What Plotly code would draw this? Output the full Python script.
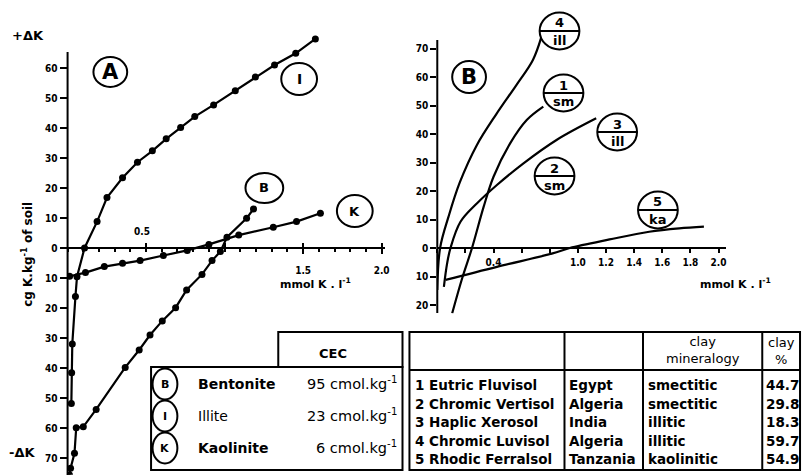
import plotly.graph_objects as go

W, H = 809, 475

# ---------------- data ----------------
# Panel A (clay minerals), x = mmol K/l, y = cg K/kg (negative = -dK)
illite_x = [0.024, 0.026, 0.030, 0.05, 0.06, 0.108, 0.188, 0.251, 0.35, 0.445, 0.54, 0.628, 0.72, 0.81, 0.93, 1.068, 1.196, 1.318, 1.453, 1.578]
illite_y = [-51.8, -41.6, -32, -16.2, -9.6, 0, 8.8, 16.8, 23.4, 28.6, 32.4, 36.4, 40.2, 43.8, 47.7, 52.4, 57, 61, 64.9, 69.7]

kaol_x = [0.013, 0.114, 0.234, 0.35, 0.462, 0.61, 0.762, 0.9, 1.09, 1.31, 1.458, 1.61]
kaol_y = [-9.4, -8.2, -6.2, -5.1, -4.2, -2.5, -0.8, 1.2, 4.3, 6.9, 8.8, 11.6]

bent_x = [0.012, 0.019, 0.044, 0.055, 0.1, 0.182, 0.367, 0.456, 0.525, 0.603, 0.688, 0.758, 0.856, 0.92, 0.973, 1.015, 1.14, 1.184]
bent_y = [-75.7, -73.4, -68.4, -59.9, -59.6, -53.8, -39.8, -34, -29, -24.3, -19.9, -14, -8.8, -4.2, -1.2, 3.6, 9.9, 13.0]

# Panel B (soils)
s4_x = [0.0, 0.02, 0.08, 0.16, 0.28, 0.42, 0.56, 0.68, 0.74]
s4_y = [-14.7, 0, 11, 23, 36, 47, 57, 66, 74]
s1_x = [0.106, 0.177, 0.247, 0.33, 0.4, 0.518, 0.636, 0.754]
s1_y = [-22.9, -10.6, 0, 14.5, 25, 36.7, 44.9, 49.6]
s3_x = [0.047, 0.07, 0.094, 0.165, 0.283, 0.424, 0.613, 0.848, 1.13]
s3_y = [-13.6, -5.4, 0, 9.2, 15.7, 22.1, 29.7, 37.9, 45.5]
s5_x = [0.059, 0.424, 0.82, 0.942, 1.225, 1.507, 1.72, 1.896]
s5_y = [-11.2, -6.6, -1.9, 0, 3.0, 5.7, 6.9, 7.5]

# axis ticks
a_xmajor = [0.5, 1.0, 1.5, 2.0]
a_xticks = [1.5, 2.0]
a_xticktext = ["1.5", "2.0"]
a_yticks = [-70, -60, -50, -40, -30, -20, -10, 0, 10, 20, 30, 40, 50, 60]
b_xticks = [0.4, 1.0, 1.2, 1.4, 1.6, 1.8, 2.0]
b_xticktext = ["0.4", "1.0", "1.2", "1.4", "1.6", "1.8", "2.0"]
b_yticks = [-20, -10, 0, 10, 20, 30, 40, 50, 60, 70]

# tables
mineral_codes = ["B", "I", "K"]
mineral_names = ["Bentonite", "Illite", "Kaolinite"]
mineral_cec = ["95 cmol.kg<sup>-1</sup>", "23 cmol.kg<sup>-1</sup>", "6 cmol.kg<sup>-1</sup>"]

soil_names = ["1 Eutric Fluvisol", "2 Chromic Vertisol", "3 Haplic Xerosol", "4 Chromic Luvisol", "5 Rhodic Ferralsol"]
soil_country = ["Egypt", "Algeria", "India", "Algeria", "Tanzania"]
soil_mineralogy = ["smectitic", "smectitic", "illitic", "illitic", "kaolinitic"]
soil_clay = ["44.7", "29.8", "18.3", "59.7", "54.9"]

soil_labels = [("4", "ill"), ("1", "sm"), ("3", "ill"), ("2", "sm"), ("5", "ka")]

# ---------------- helpers ----------------
def X(px):
    return min(1.0, max(0.0, px / W))

def Y(py):
    return min(1.0, max(0.0, 1 - py / H))

FONT = "DejaVu Sans, Liberation Sans, Arial, sans-serif"
NARROW = "DejaVu Sans Condensed, Liberation Sans Narrow, Arial, sans-serif"

fig = go.Figure()

mk = dict(size=7, color="black")
ln = dict(color="black", width=2.2)
for xs, ys in [(illite_x, illite_y), (kaol_x, kaol_y), (bent_x, bent_y)]:
    fig.add_trace(go.Scatter(x=xs, y=ys, mode="lines+markers", line=ln, marker=mk,
                             xaxis="x", yaxis="y", showlegend=False, hoverinfo="skip"))

for xs, ys in [(s4_x, s4_y), (s1_x, s1_y), (s3_x, s3_y), (s5_x, s5_y)]:
    fig.add_trace(go.Scatter(x=xs, y=ys, mode="lines", line=dict(color="black", width=2.2, shape="spline", smoothing=1.0),
                             xaxis="x2", yaxis="y2", showlegend=False, hoverinfo="skip"))

# axis geometry (pixels)
A_X0, A_PPU_X = 68, 158.0
A_Y0, A_PPU_Y = 248, 3.0
A_XMAX = 2.02
A_YTOP, A_YBOT = 72, -75.6
A_LINE_TOP = 52
B_X0, B_PPU_X = 440, 141.5
B_Y0, B_PPU_Y = 248, 2.85
B_XMAX = 2.05
B_YTOP, B_YBOT = 76, -23
B_LINE_TOP, B_LINE_BOT = 40, 313

tickfont = dict(family=NARROW, size=10, color="black", weight="bold")

common = dict(showgrid=False, zeroline=False, linecolor="black", linewidth=2,
              ticks="outside", tickcolor="black", tickwidth=2, tickfont=tickfont, fixedrange=True)

a_xdom = [X(A_X0), X(A_X0 + A_XMAX * A_PPU_X)]
fig.update_layout(
    width=W, height=H, margin=dict(l=0, r=0, t=0, b=0),
    paper_bgcolor="white", plot_bgcolor="rgba(0,0,0,0)",
    xaxis=dict(domain=a_xdom, range=[0, A_XMAX], showline=True,
               anchor="free", position=Y(A_Y0), tickvals=a_xticks, ticktext=a_xticktext,
               ticklen=5, ticklabelstandoff=8,
               minor=dict(dtick=0.1, ticklen=3, ticks="outside", tickcolor="black", tickwidth=1.5),
               **common),
    xaxis3=dict(domain=a_xdom, range=[0, A_XMAX], overlaying="x", showline=False,
                anchor="free", position=Y(A_Y0), tickvals=a_xmajor, showticklabels=False,
                showgrid=False, zeroline=False, ticks="inside", ticklen=5, tickwidth=2,
                tickcolor="black", fixedrange=True),
    yaxis=dict(domain=[Y(A_Y0 - A_YBOT * A_PPU_Y), Y(A_Y0 - A_YTOP * A_PPU_Y)], range=[A_YBOT, A_YTOP],
               anchor="x", showline=False, tickvals=a_yticks, ticktext=[str(abs(v)) for v in a_yticks],
               ticklen=7, **common),
    xaxis2=dict(domain=[X(B_X0), X(B_X0 + B_XMAX * B_PPU_X)], range=[0, B_XMAX], showline=True,
                anchor="free", position=Y(B_Y0), tickvals=b_xticks, ticktext=b_xticktext,
                ticklen=4, ticklabelstandoff=1,
                minor=dict(dtick=0.2, ticklen=4, ticks="outside", tickcolor="black", tickwidth=2),
                **common),
    yaxis2=dict(domain=[Y(B_Y0 - B_YBOT * B_PPU_Y), Y(B_Y0 - B_YTOP * B_PPU_Y)], range=[B_YBOT, B_YTOP],
                anchor="x2", showline=False, tickvals=b_yticks, ticktext=[str(abs(v)) for v in b_yticks],
                ticklen=6, **common),
)
# invisible trace to activate overlay axis
fig.add_trace(go.Scatter(x=[None], y=[None], xaxis="x3", yaxis="y", showlegend=False, hoverinfo="skip"))

shapes = []
annots = []

def circle(cx, cy, rx, ry, w=2):
    shapes.append(dict(type="circle", xref="paper", yref="paper", x0=X(cx - rx), x1=X(cx + rx),
                       y0=Y(cy + ry), y1=Y(cy - ry), line=dict(color="black", width=w),
                       fillcolor="white", layer="above"))

def text(t, x, y, size=12, xanchor="center", bold=True, angle=0, family=FONT):
    annots.append(dict(text=t, x=X(x), y=Y(y), xref="paper", yref="paper", showarrow=False,
                       xanchor=xanchor, yanchor="middle", textangle=angle,
                       font=dict(family=family, size=size, color="black", weight="bold" if bold else "normal")))

def hline(x0, x1, y, w=2):
    shapes.append(dict(type="line", xref="paper", yref="paper", x0=X(x0), x1=X(x1), y0=Y(y), y1=Y(y),
                       line=dict(color="black", width=w)))

def vline(x, y0, y1, w=2):
    shapes.append(dict(type="line", xref="paper", yref="paper", x0=X(x), x1=X(x), y0=Y(y0), y1=Y(y1),
                       line=dict(color="black", width=w)))

# y-axis lines (drawn as shapes so curves may pass above the axis top)
vline(A_X0, A_LINE_TOP, H)
vline(B_X0, B_LINE_TOP, B_LINE_BOT)

# Panel A labels
text("+ΔK", 28, 35, 13)
text("-ΔK", 22, 452, 13)
text("cg K.kg<sup>-1</sup> of soil", 27, 254, 12, angle=-90)
text("mmol K . l<sup>-1</sup>", 317, 283, 11)
text("0.5", 143, 232, 10, family=NARROW)
circle(111, 72, 17, 15)
text("A", 111, 72, 21)
circle(301, 79, 18, 16)
text("I", 301, 79, 14)
circle(266, 188, 19, 15)
text("B", 266, 188, 13)
circle(357, 211, 18, 16)
text("K", 357, 211, 13)

# Panel B labels
circle(472, 77, 17, 16)
text("B", 472, 77, 21)
text("mmol K . l<sup>-1</sup>", 740, 283, 11)
label_pos = [(563, 31), (567, 93), (621, 132), (558, 176), (662, 210)]
for (num, abbr), (cx, cy) in zip(soil_labels, label_pos):
    circle(cx, cy, 20, 18.5)
    hline(cx - 20, cx + 20, cy, 2)
    text(num, cx, cy - 8, 13)
    text(abbr, cx, cy + 9, 13)

# Left table (clay minerals)
shapes.append(dict(type="rect", xref="paper", yref="paper", x0=X(152), x1=X(405), y0=Y(470), y1=Y(367),
                   line=dict(color="black", width=2)))
shapes.append(dict(type="rect", xref="paper", yref="paper", x0=X(280), x1=X(405), y0=Y(367), y1=Y(332),
                   line=dict(color="black", width=2)))
text("CEC", 335, 353, 13)
row_y = [384, 416, 448]
for code, name, cec, ry in zip(mineral_codes, mineral_names, mineral_cec, row_y):
    circle(166, ry, 12.5, 15.5)
    text(code, 166, ry, 11)
    text(name, 197, ry, 14, xanchor="left", bold=(name != "Illite"))
    text(cec, 401, ry - 1, 14.5, xanchor="right", bold=False)

# Right table (soils)
shapes.append(dict(type="rect", xref="paper", yref="paper", x0=X(412), x1=X(805), y0=Y(470), y1=Y(332),
                   line=dict(color="black", width=2)))
hline(412, 805, 370)
for cx in [568, 647, 767]:
    vline(cx, 332, 470)
text("clay<br>mineralogy", 707, 350, 13, bold=False)
text("clay<br>%", 786, 351, 13, bold=False)
srow_y = [385, 403.5, 422, 441, 459]
for nm, ct, mn, cl, ry in zip(soil_names, soil_country, soil_mineralogy, soil_clay, srow_y):
    text(nm, 416, ry, 13.5, xanchor="left")
    text(ct, 571, ry, 13.5, xanchor="left")
    text(mn, 650, ry, 13.5, xanchor="left")
    text(cl, 806, ry, 13.5, xanchor="right")

fig.update_layout(shapes=shapes, annotations=annots)
fig.write_html("out.html")
